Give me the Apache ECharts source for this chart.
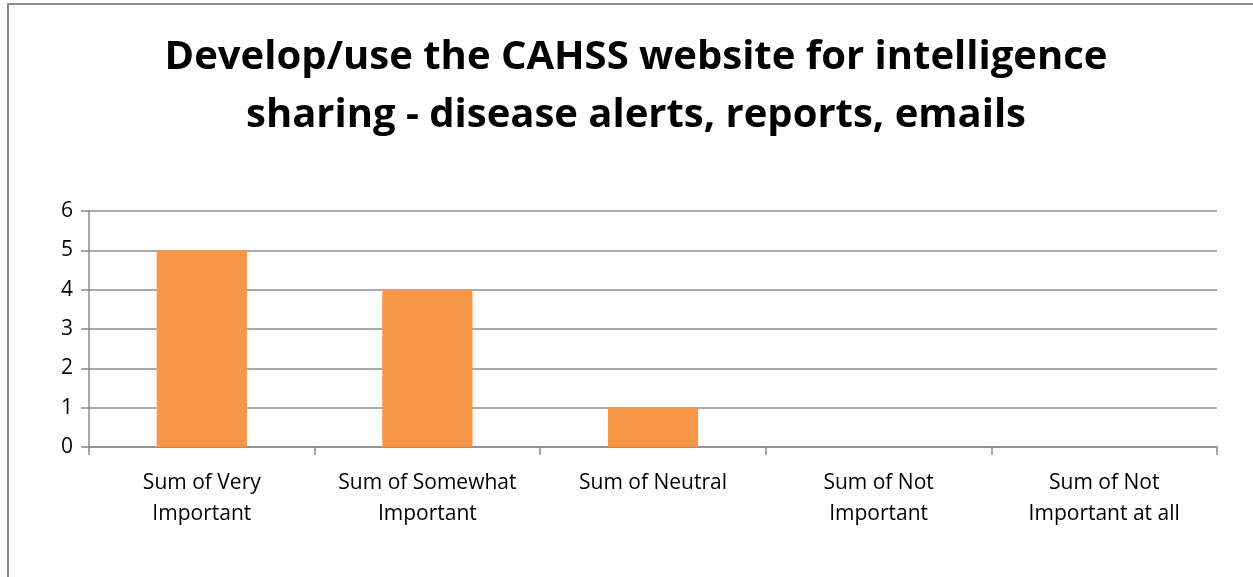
<!DOCTYPE html>
<html lang="en">
    <head>
        <meta charset="utf-8">
        <title>CAHSS website chart</title>
        <style>
            html, body { margin: 0; padding: 0; background: #fff; }
            #frame { position: absolute; left: 7px; top: 3px; width: 1260px; height: 590px; border: 2px solid #8c8c8c; box-sizing: border-box; }
            #main { position: absolute; left: 0; top: 0; width: 1253px; height: 577px; }
        </style>
    </head>
    <body>
        <div id="frame"></div>
        <div id="main"></div>
        <script src="https://cdn.jsdelivr.net/npm/echarts@6/dist/echarts.min.js"></script>
        <script type="text/javascript">
            var myChart = echarts.init(document.getElementById('main'));

            var categories = ['Sum of Very\nImportant', 'Sum of Somewhat\nImportant', 'Sum of Neutral', 'Sum of Not\nImportant', 'Sum of Not\nImportant at all'];
            var counts = [5, 4, 1, 0, 0];
            var yTicks = [0, 6, 1];  // min, max, step

            myChart.setOption({
                animation: false,
                title: {
                    text: 'Develop/use the CAHSS website for intelligence\nsharing - disease alerts, reports, emails',
                    left: 631,
                    textAlign: 'center',
                    top: 24,
                    textStyle: {
                        fontFamily: 'Open Sans',
                        fontWeight: 'bold',
                        fontSize: 40,
                        lineHeight: 58,
                        color: '#000'
                    }
                },
                grid: {
                    left: 89,
                    right: 36,
                    top: 211,
                    bottom: 130,
                    containLabel: false
                },
                xAxis: {
                    type: 'category',
                    data: categories,
                    axisLine: { lineStyle: { color: '#8c8c8c', width: 1.5 } },
                    axisTick: { show: true, length: 8, alignWithLabel: false, lineStyle: { color: '#8c8c8c', width: 1.5 } },
                    axisLabel: {
                        interval: 0,
                        margin: 21,
                        fontFamily: 'Open Sans',
                        fontSize: 21,
                        lineHeight: 31,
                        color: '#000'
                    }
                },
                yAxis: {
                    type: 'value',
                    min: yTicks[0],
                    max: yTicks[1],
                    interval: yTicks[2],
                    axisLine: { show: true, lineStyle: { color: '#8c8c8c', width: 1.5 } },
                    axisTick: { show: true, length: 8, lineStyle: { color: '#8c8c8c', width: 1.5 } },
                    splitLine: { lineStyle: { color: '#8c8c8c', width: 1.5 } },
                    axisLabel: {
                        margin: 16,
                        fontFamily: 'Open Sans',
                        fontSize: 21,
                        color: '#000'
                    }
                },
                series: [{
                    type: 'bar',
                    data: counts,
                    barWidth: '40%',
                    itemStyle: { color: '#f79646' }
                }]
            });
        </script>
    </body>
</html>
